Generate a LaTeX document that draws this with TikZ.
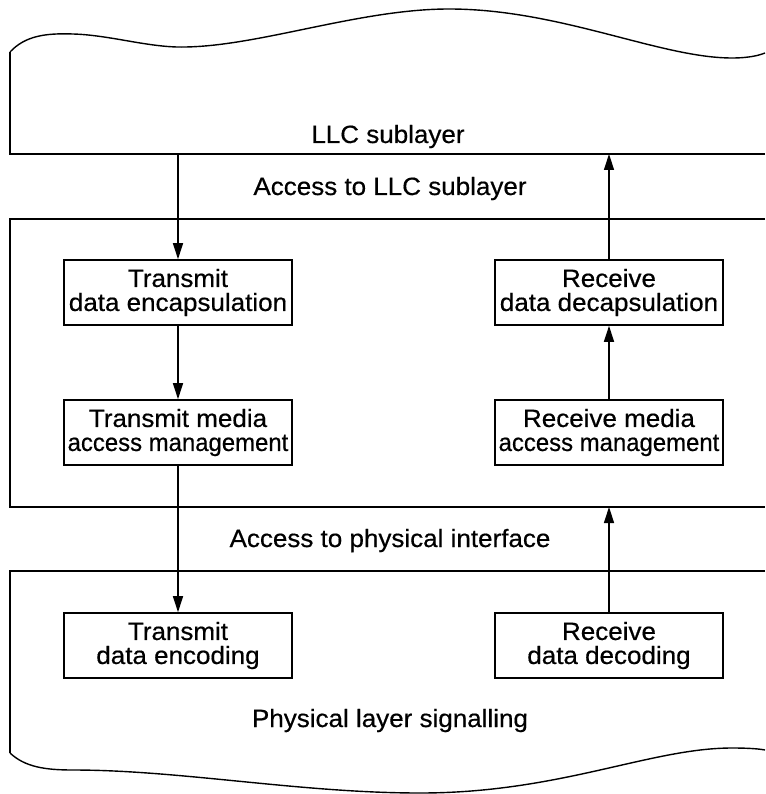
\documentclass[tikz,border=0pt]{standalone}
\usepackage{fontspec}
\setmainfont{Liberation Sans}[FakeStretch=1.04,FakeBold=0.5]
\usetikzlibrary{arrows.meta}

\tikzset{
    blk/.style={draw, line width=1.6pt, minimum width=228pt, minimum height=65pt,
                inner sep=0pt, align=center, font=\fontsize{25}{24}\selectfont},
    lbl/.style={anchor=base, font=\fontsize{25}{24}\selectfont},
    lay/.style={line width=1.8pt},
    wave/.style={line width=1.4pt},
    arr/.style={line width=1.4pt, -{Triangle[length=16pt,width=10pt]}}
}
\newcommand{\squeezed}[1]{\scalebox{0.92}[1]{#1}}

\begin{document}
\begin{tikzpicture}[x=1pt,y=-1pt]
    \useasboundingbox (0,0) rectangle (765,794);
    \def\xl{178} %x of the transmit column
    \def\xr{609} %x of the receive column
    \def\re{765} %right edge, the layers run off the page

    % LLC sublayer
    \draw[lay] (\re,154) -- (10,154) coordinate (llcbot) -- (10,52);
    \draw[wave] (10,52) .. controls (25,36) and (45,33) .. (73,34)
        .. controls (110,35) and (150,48) .. (185,47)
        .. controls (260,46) and (360,9) .. (449,9)
        .. controls (560,9) and (660,58) .. (732,58)
        .. controls (750,58) and (760,55) .. (\re,53);
    \node[lbl] (llc) at (388,143) {LLC sublayer};

    \node[lbl] (acllc) at (390,195) {Access to LLC sublayer};

    % MAC layer
    \draw[lay] (\re,219) -- (10,219) -- (10,507) coordinate (midbot) -- (\re,507);

    \node[lbl] (acphy) at (390,547) {Access to physical interface};

    % physical layer
    \draw[lay] (\re,571) -- (10,571) -- (10,753);
    \draw[wave] (10,753) .. controls (25,767) and (45,770) .. (73,770)
        .. controls (180,770) and (300,793) .. (420,793)
        .. controls (560,793) and (650,748) .. (732,748)
        .. controls (750,748) and (760,749) .. (\re,750);
    \node[lbl] (phys) at (390,727) {Physical layer signalling};

    % function blocks, transmit left and receive right
    \foreach \n/\y/\tt/\rt in {
        enc/292.5/{Transmit\\data encapsulation}/{Receive\\data decapsulation},
        mac/432.5/{Transmit media\\\squeezed{access management}}/{Receive media\\\squeezed{access management}},
        phy/645.5/{Transmit\\data encoding}/{Receive\\data decoding}}
    {
        \node[blk] (t\n) at (\xl,\y) {\tt};
        \node[blk] (r\n) at (\xr,\y) {\rt};
    }

    \draw[arr] (tenc.north |- llcbot) -- (tenc.north);
    \draw[arr] (tenc.south) -- (tmac.north);
    \draw[arr] (tmac.south) -- (tphy.north);
    \draw[arr] (rphy.north) -- (rphy.north |- midbot);
    \draw[arr] (rmac.north) -- (renc.south);
    \draw[arr] (renc.north) -- (renc.north |- llcbot);
\end{tikzpicture}
\end{document}
